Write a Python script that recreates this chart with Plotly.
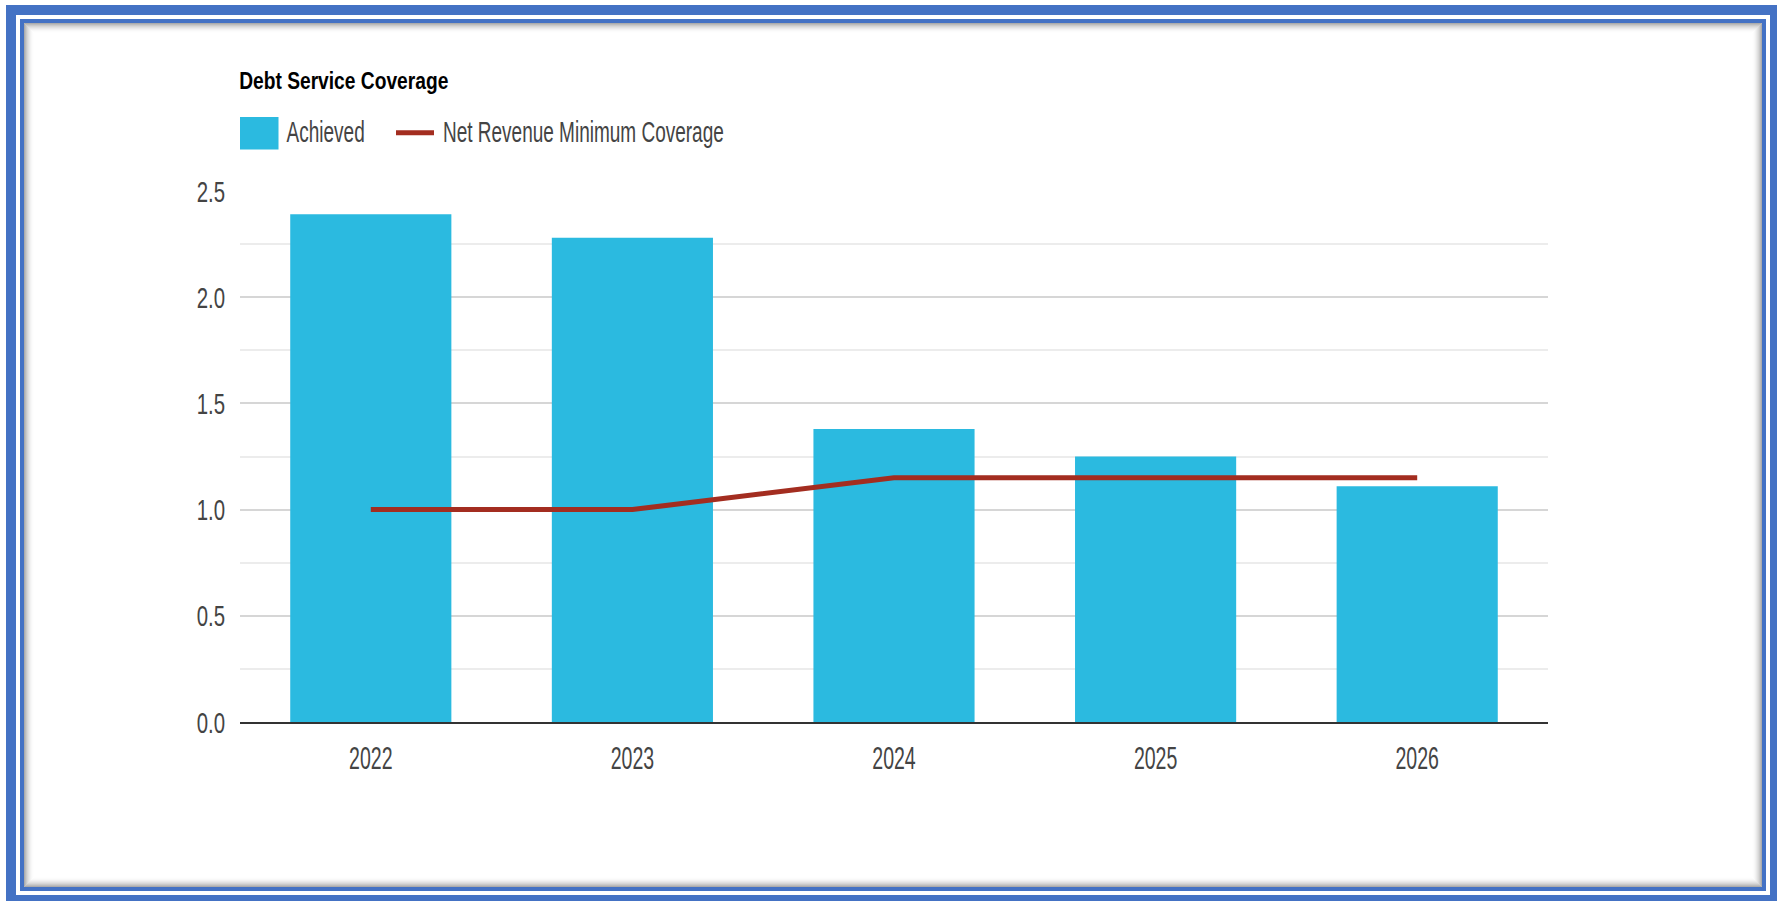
import plotly.graph_objects as go

# ---- data ----
years = ["2022", "2023", "2024", "2025", "2026"]
achieved = [2.39, 2.28, 1.38, 1.25, 1.11]
min_coverage = [1.0, 1.0, 1.15, 1.15, 1.15]
y_ticks = [0.0, 0.5, 1.0, 1.5, 2.0, 2.5]

title_text = "Debt Service Coverage"
bar_name = "Achieved"
line_name = "Net Revenue Minimum Coverage"

BAR_COLOR = "#2BBAE0"
LINE_COLOR = "#A32D20"
FRAME_BLUE = "#4472C4"
FONT = "Liberation Sans, Arial, sans-serif"
TEXT_GRAY = "#444444"

W, H = 1777, 901
L, R, T, B = 240, 1548, 191, 722  # plot area in pixels


def px(x):
    return (x - L) / (R - L)


def py(y):
    return (B - y) / (B - T)


fig = go.Figure()
fig.add_trace(go.Bar(x=years, y=achieved, name=bar_name, marker=dict(color=BAR_COLOR, line=dict(width=0)),
                     width=0.616, showlegend=False))
fig.add_trace(go.Scatter(x=years, y=min_coverage, name=line_name, mode="lines",
                         line=dict(color=LINE_COLOR, width=5), showlegend=False))

shapes = []


def rect(x0, y0, x1, y1, fill, layer="below"):
    shapes.append(dict(type="rect", xref="paper", yref="paper", x0=px(x0), x1=px(x1), y0=py(y1), y1=py(y0),
                       fillcolor=fill, line=dict(width=0), layer=layer))


# frame
rect(6, 5, 1800, 920, FRAME_BLUE)
rect(16, 15, 1770, 895, "white")
rect(20, 19, 1766, 891, FRAME_BLUE)
rect(24, 23, 1762, 887, "white")
# inset shadow
n = 10
for i in range(n):
    a = 0.5 * (1 - i / n) ** 2
    shapes.append(dict(type="rect", xref="paper", yref="paper",
                       x0=px(24 + i + 0.5), x1=px(1762 - i - 0.5), y0=py(887 - i - 0.5), y1=py(23 + i + 0.5),
                       line=dict(color=f"rgba(90,90,90,{a:.3f})", width=1), fillcolor="rgba(0,0,0,0)", layer="below"))

# legend (manual)
rect(240, 117, 278.5, 149.5, BAR_COLOR, layer="above")
shapes.append(dict(type="line", xref="paper", yref="paper", x0=px(396), x1=px(434), y0=py(132.7), y1=py(132.7),
                   line=dict(color=LINE_COLOR, width=5), layer="above"))

annotations = [
    dict(text=title_text, xref="paper", yref="paper", x=px(343), y=py(80.5), xanchor="center", yanchor="middle",
         showarrow=False, font=dict(family=FONT, size=24, color="#000000", weight="bold")),
    dict(text=bar_name, xref="paper", yref="paper", x=px(325), y=py(132), xanchor="center", yanchor="middle",
         showarrow=False, font=dict(family=FONT, size=29, color=TEXT_GRAY)),
    dict(text=line_name, xref="paper", yref="paper", x=px(583), y=py(132), xanchor="center", yanchor="middle",
         showarrow=False, font=dict(family=FONT, size=29, color=TEXT_GRAY)),
]

fig.update_layout(
    width=W, height=H,
    margin=dict(l=L, r=W - R, t=T, b=H - B, pad=0),
    paper_bgcolor="white", plot_bgcolor="white",
    shapes=shapes, annotations=annotations,
    font=dict(family=FONT, size=26, color=TEXT_GRAY),
)
fig.update_xaxes(type="category", showgrid=False, showline=True, linecolor="#333333", linewidth=2,
                 ticks="", ticklabelstandoff=8, tickfont=dict(family=FONT, size=31, color=TEXT_GRAY),
                 zeroline=False)
fig.update_yaxes(range=[0, 2.5], tickvals=y_ticks, tickformat=".1f", showgrid=True, gridcolor="#d6d6d6",
                 gridwidth=2, zeroline=False, showline=False, ticks="", ticklabelstandoff=14,
                 tickfont=dict(family=FONT, size=30, color=TEXT_GRAY),
                 minor=dict(dtick=0.25, showgrid=True, gridcolor="#ececec", gridwidth=2))

# The reference uses a condensed face; squeeze the real SVG text horizontally to match.
post_js = """
var gd = document.getElementById('{plot_id}');
function squeeze(el, f) {
  var w = el.getComputedTextLength();
  if (w > 0) {
    el.setAttribute('textLength', (w * f).toFixed(2));
    el.setAttribute('lengthAdjust', 'spacingAndGlyphs');
  }
}
gd.querySelectorAll('.xtick text').forEach(function (t) { squeeze(t, 0.63); });
gd.querySelectorAll('.ytick text').forEach(function (t) { squeeze(t, 0.68); });
gd.querySelectorAll('.annotation-text').forEach(function (t) {
  squeeze(t, t.textContent === 'Debt Service Coverage' ? 0.8 : 0.655);
});
"""

fig.write_html("out.html", post_script=post_js)
